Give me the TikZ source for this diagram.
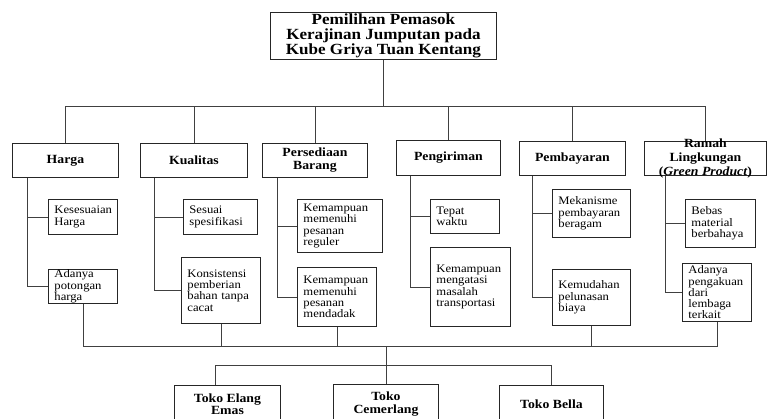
\documentclass[tikz,border=0pt]{standalone}
\usepackage{fontspec}
\setmainfont{Liberation Serif}[FakeStretch=1.1]
\usetikzlibrary{calc}
\begin{document}
\begin{tikzpicture}[x=1pt,y=1pt,
  box/.style={draw=black!85, line width=0.9pt, anchor=north west, inner sep=0pt},
  hbox/.style={box, align=center, font=\fontsize{12.5}{13}\selectfont\bfseries},
  sbox/.style={box, align=left, inner xsep=6pt, inner ysep=0pt, font=\fontsize{11.5}{11.3}\selectfont},
  conn/.style={draw=black!75, line width=0.8pt}]
\useasboundingbox (0,0) rectangle (767,-419);
\clip (0,0) rectangle (767,-419);

% top
\node[hbox, minimum width=226, minimum height=47, font=\fontsize{15.5}{15}\selectfont\bfseries] (top) at (270,-12) {Pemilihan Pemasok\\Kerajinan Jumputan pada\\Kube Griya Tuan Kentang};

% level 1
\node[hbox, minimum width=106, minimum height=34] (harga) at (12,-143) {Harga};
\node[hbox, minimum width=107, minimum height=34] (kual) at (140,-143) {Kualitas};
\node[hbox, minimum width=105, minimum height=34] (pers) at (262,-143) {Persediaan\\Barang};
\node[hbox, minimum width=104, minimum height=35] (peng) at (396,-140) {Pengiriman};
\node[hbox, minimum width=106, minimum height=34] (pemb) at (519,-141) {Pembayaran};
\node[box, minimum width=122, minimum height=34] (ramah) at (644,-141) {};
\node[align=center, inner sep=0pt, font=\fontsize{12.5}{14}\selectfont\bfseries] (ramahT) at (ramah.center) {Ramah\\Lingkungan\\(\textit{Green Product})};

% level 2
\node[sbox, text width=57, minimum height=35] (h1) at (48,-199) {Kesesuaian\\Harga};
\node[sbox, text width=57, minimum height=34] (h2) at (48,-269) {Adanya\\potongan\\harga};
\node[sbox, text width=62, minimum height=35] (k1) at (183,-199) {Sesuai\\spesifikasi};
\node[sbox, text width=67, minimum height=66] (k2) at (181,-257) {Konsistensi\\pemberian\\bahan tanpa\\cacat};
\node[sbox, text width=73, minimum height=53] (p1) at (297,-199) {Kemampuan\\memenuhi\\pesanan\\reguler};
\node[sbox, text width=67, minimum height=59] (p2) at (297,-267) {Kemampuan\\memenuhi\\pesanan\\mendadak};
\node[sbox, text width=57, minimum height=34] (g1) at (430,-199) {Tepat\\waktu};
\node[sbox, text width=68, minimum height=79] (g2) at (430,-247) {Kemampuan\\mengatasi\\masalah\\transportasi};
\node[sbox, text width=66, minimum height=48] (b1) at (552,-189) {Mekanisme\\pembayaran\\beragam};
\node[sbox, text width=66, minimum height=56] (b2) at (552,-269) {Kemudahan\\pelunasan\\biaya};
\node[sbox, text width=58, minimum height=48] (r1) at (685,-199) {Bebas\\material\\berbahaya};
\node[sbox, text width=57, minimum height=58] (r2) at (682,-263) {Adanya\\pengakuan\\dari\\lembaga\\terkait};

% bottom
\node[hbox, minimum width=106, minimum height=38, font=\fontsize{12.5}{12.3}\selectfont\bfseries] (elang) at (174,-385) {Toko Elang\\Emas};
\node[hbox, minimum width=105, minimum height=39, font=\fontsize{12.5}{12.3}\selectfont\bfseries] (cem) at (333,-384) {Toko\\Cemerlang};
\node[hbox, minimum width=104, minimum height=38] (bella) at (499,-385) {Toko Bella};

% top connectors
\coordinate (tb) at (0,-106);
\draw[conn] (top.south) -- (top.south |- tb);
\draw[conn] (harga.north) -- (harga.north |- tb) -- (ramah.north |- tb) -- (ramah.north);
\foreach \n in {kual,pers,peng,pemb}
  \draw[conn] (\n.north) -- (\n.north |- tb);

% spines
\coordinate (sh) at ($(harga.south west)+(15,0)$);
\draw[conn] (sh) |- (h2.west);
\draw[conn] (h1.west) -- (h1.west -| sh);
\coordinate (sk) at ($(kual.south west)+(14,0)$);
\draw[conn] (sk) |- (k2.west);
\draw[conn] (k1.west) -- (k1.west -| sk);
\coordinate (sp) at ($(pers.south west)+(15,0)$);
\draw[conn] (sp) |- (p2.west);
\draw[conn] (p1.west) -- (p1.west -| sp);
\coordinate (sg) at ($(peng.south west)+(14,0)$);
\draw[conn] (sg) |- (g2.west);
\draw[conn] (g1.west) -- (g1.west -| sg);
\coordinate (sb) at ($(pemb.south west)+(13,0)$);
\draw[conn] (sb) |- (b2.west);
\draw[conn] (b1.west) -- (b1.west -| sb);
\coordinate (sr) at ($(ramah.south west)+(21,0)$);
\draw[conn] (sr) |- (r2.west);
\draw[conn] (r1.west) -- (r1.west -| sr);

% bottom bus
\coordinate (bb) at (0,-346);
\draw[conn] (h2.south) -- (h2.south |- bb) -- (r2.south |- bb) -- (r2.south);
\foreach \n in {k2,p2,b2}
  \draw[conn] (\n.south) -- (\n.south |- bb);
\draw[conn] (cem.north) -- (cem.north |- bb);
\coordinate (bb2) at (0,-365);
\coordinate (ev) at ($(elang.north)+(-12,0)$);
\draw[conn] (ev) |- (bella.north |- bb2) -- (bella.north);
\end{tikzpicture}
\end{document}
